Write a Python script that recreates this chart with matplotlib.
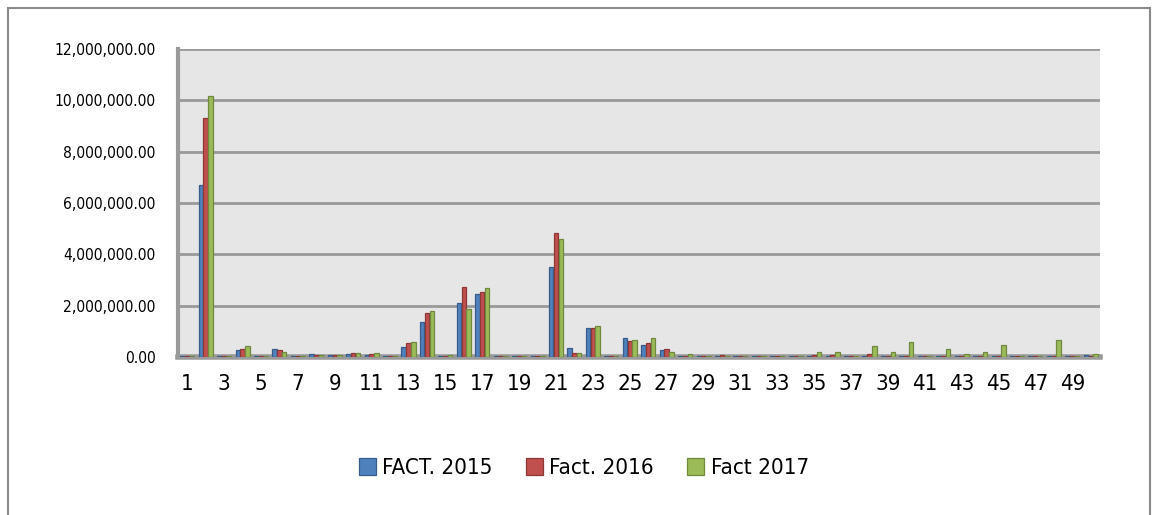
import matplotlib
matplotlib.use("Agg")
import matplotlib.pyplot as plt
import numpy as np
from matplotlib.ticker import FuncFormatter, FixedLocator
from matplotlib.patches import Rectangle
from matplotlib.font_manager import FontProperties

categories = list(range(1, 51))
fact_2015 = [0.02, 6.70, 0.02, 0.27, 0.02, 0.30, 0.03, 0.10, 0.06, 0.10,
             0.08, 0.04, 0.40, 1.38, 0.05, 2.09, 2.46, 0.03, 0.03, 0.03,
             3.52, 0.34, 1.12, 0.03, 0.73, 0.47, 0.27, 0.02, 0.02, 0.02,
             0.02, 0.02, 0.02, 0.02, 0.03, 0.02, 0.02, 0.02, 0.02, 0.02,
             0.02, 0.02, 0.02, 0.02, 0.02, 0.02, 0.02, 0.02, 0.02, 0.08]
fact_2016 = [0.02, 9.30, 0.02, 0.33, 0.02, 0.27, 0.03, 0.08, 0.06, 0.14,
             0.10, 0.04, 0.53, 1.70, 0.05, 2.71, 2.55, 0.03, 0.03, 0.05,
             4.82, 0.17, 1.12, 0.03, 0.64, 0.56, 0.30, 0.02, 0.02, 0.06,
             0.02, 0.04, 0.02, 0.04, 0.08, 0.08, 0.02, 0.10, 0.02, 0.02,
             0.02, 0.02, 0.02, 0.02, 0.02, 0.02, 0.02, 0.02, 0.02, 0.02]
fact_2017 = [0.02, 10.15, 0.03, 0.43, 0.02, 0.20, 0.03, 0.07, 0.06, 0.14,
             0.15, 0.05, 0.60, 1.80, 0.08, 1.86, 2.68, 0.03, 0.03, 0.05,
             4.60, 0.14, 1.20, 0.03, 0.66, 0.73, 0.21, 0.10, 0.04, 0.03,
             0.03, 0.03, 0.03, 0.03, 0.18, 0.20, 0.05, 0.43, 0.18, 0.57,
             0.03, 0.30, 0.10, 0.20, 0.47, 0.05, 0.05, 0.66, 0.03, 0.10]
series_names = ["FACT. 2015", "Fact. 2016", "Fact 2017"]
y_ticks = [0, 2e6, 4e6, 6e6, 8e6, 10e6, 12e6]
x_tick_labels = [str(c) for c in categories if c % 2 == 1]

face_colors = ["#4F81BD", "#C0504D", "#9BBB59"]
edge_colors = ["#385D8A", "#8C3836", "#71893F"]

fig = plt.figure(figsize=(11.52, 5.15), dpi=100)
W, H = 1152, 515
left_px, right_px, top_px, bottom_px = 178, 1100, 49, 357
ax = fig.add_axes([left_px / W, 1 - bottom_px / H,
                   (right_px - left_px) / W, (bottom_px - top_px) / H])
ax.set_facecolor("#E6E6E6")

x = np.array(categories, dtype=float)
bw = 0.24
offsets = [-bw - 0.02, 0, bw + 0.02]
for vals, off, fc, ec, name in zip([fact_2015, fact_2016, fact_2017], offsets,
                                   face_colors, edge_colors, series_names):
    ax.bar(x + off, np.array(vals) * 1e6, width=bw, color=fc, edgecolor=ec,
           linewidth=0.9, label=name, zorder=3)

ax.set_xlim(0.5, 50.5)
ax.set_ylim(0, 12e6)
ax.yaxis.set_major_locator(FixedLocator(y_ticks))
ax.yaxis.set_major_formatter(FuncFormatter(lambda v, p: f"{v:,.2f}"))
ax.set_xticks([c for c in categories if c % 2 == 1])
ax.set_xticklabels(x_tick_labels)
ax.grid(axis="y", color="#999999", linewidth=2, zorder=1)
ax.tick_params(axis="both", length=0)
ax.tick_params(axis="y", pad=16, labelsize=11.2)
ax.tick_params(axis="x", pad=12, labelsize=16)
for lab in ax.get_yticklabels():
    lab.set_fontfamily(["DejaVu Sans"])
    lab.set_fontstretch("condensed")
for lab in ax.get_xticklabels():
    lab.set_fontfamily(["DejaVu Sans"])
    lab.set_fontstretch("condensed")
for s in ["top", "right"]:
    ax.spines[s].set_visible(False)
ax.spines["left"].set_color("#9a9a9a")
ax.spines["left"].set_linewidth(3)
ax.spines["bottom"].set_color("#9a9a9a")
ax.spines["bottom"].set_linewidth(4)

legend_font = FontProperties(family=["DejaVu Sans"], stretch="condensed", size=16)
leg = fig.legend(loc="center", bbox_to_anchor=(584 / W, 1 - 468 / H), ncol=3,
                 frameon=False, handlelength=0.75, handleheight=0.85,
                 handletextpad=0.3, columnspacing=1.5, prop=legend_font)

fig.patches.append(Rectangle((8 / W, -0.05), (1142 / W), 1 - 8 / H + 0.05,
                             transform=fig.transFigure, fill=False,
                             edgecolor="#8a8a8a", linewidth=1.5))

fig.savefig("out.png", dpi=100, facecolor="white")
